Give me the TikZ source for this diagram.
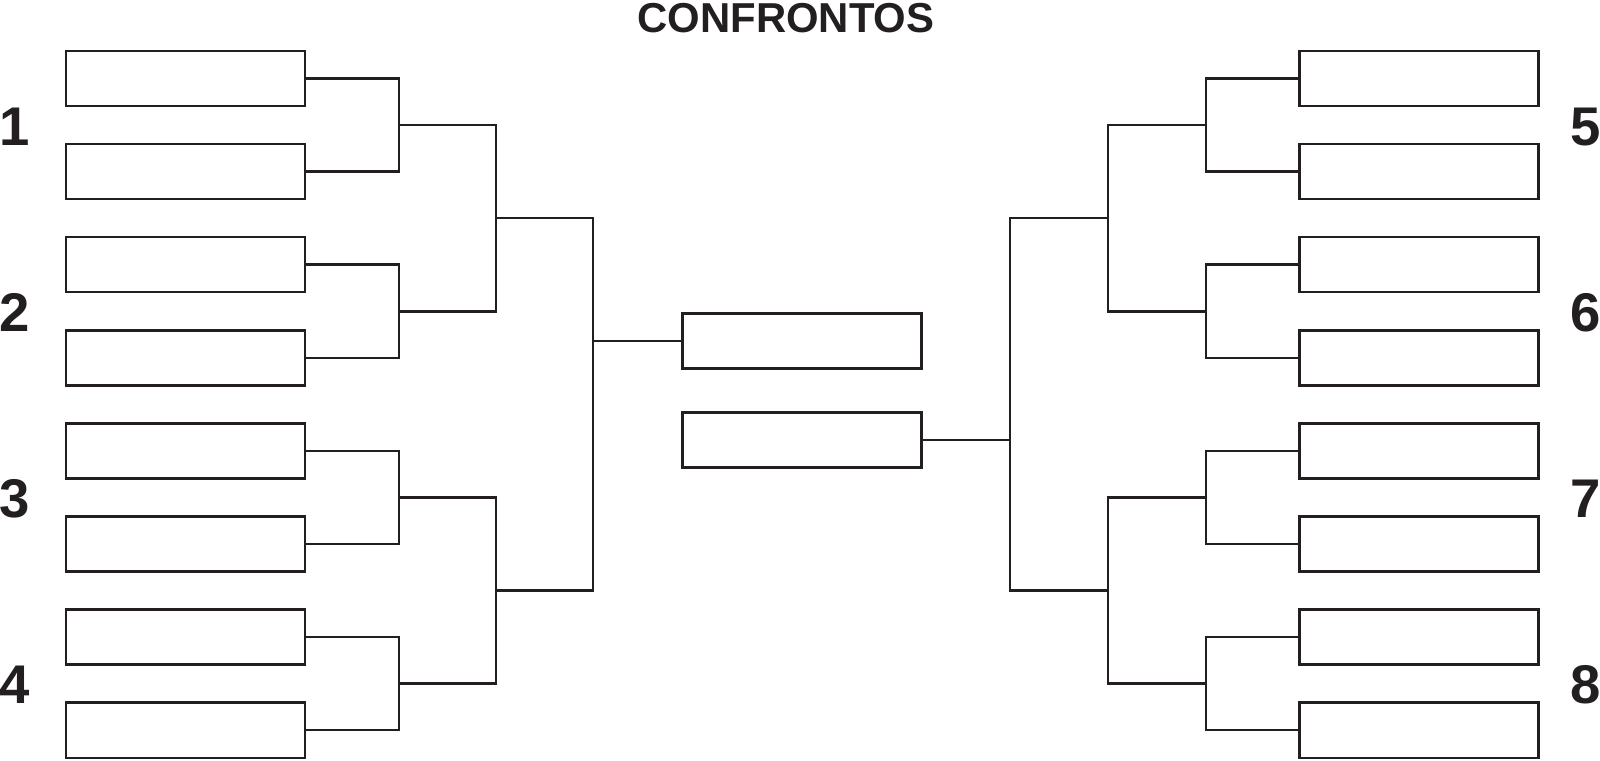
\documentclass[tikz,border=0pt]{standalone}
\usepackage{fontspec}
\setmainfont{Liberation Sans}
\usetikzlibrary{positioning}
\definecolor{cink}{HTML}{231F20}
\tikzset{
  every picture/.style={line width=0.7pt},
  slot/.style={draw=cink, fill=white, minimum width=2.39cm, minimum height=0.55cm, inner sep=0pt, outer sep=0pt},
  wire/.style={draw=cink, line width=0.7pt},
  seed/.style={font=\fontsize{15.5}{16}\selectfont\bfseries, text=cink, anchor=base, inner sep=0pt},
  title/.style={font=\fontsize{11.9}{12}\selectfont\bfseries, text=cink, anchor=base, inner sep=0pt},
}

\begin{document}
\begin{tikzpicture}[x=0.01cm, y=-0.01cm]
  \useasboundingbox (0,0) rectangle (1600,760);
  \node[title] (head) at (786,32) {CONFRONTOS};
  % left half
  \node[slot] (L1) at (185.5,78.5) {};
  \node[slot] (L2) at (185.5,171.6) {};
  \node[slot] (L3) at (185.5,264.7) {};
  \node[slot] (L4) at (185.5,357.8) {};
  \node[slot] (L5) at (185.5,450.9) {};
  \node[slot] (L6) at (185.5,544.0) {};
  \node[slot] (L7) at (185.5,637.1) {};
  \node[slot] (L8) at (185.5,730.2) {};
  % right half
  \node[slot] (R1) at (1419,78.5) {};
  \node[slot] (R2) at (1419,171.6) {};
  \node[slot] (R3) at (1419,264.7) {};
  \node[slot] (R4) at (1419,357.8) {};
  \node[slot] (R5) at (1419,450.9) {};
  \node[slot] (R6) at (1419,544.0) {};
  \node[slot] (R7) at (1419,637.1) {};
  \node[slot] (R8) at (1419,730.2) {};
  % final
  \node[slot] (M1) at (802,341) {};
  \node[slot] (M2) at (802,440) {};
  % joins
  \coordinate (ja) at (399,125);   \coordinate (jb) at (399,311.3);
  \coordinate (jc) at (399,497.5); \coordinate (jd) at (399,683.6);
  \coordinate (ka) at (496,218.2); \coordinate (kb) at (496,590.5);
  \coordinate (lm) at (593,341);
  \coordinate (je) at (1206,125);   \coordinate (jf) at (1206,311.3);
  \coordinate (jg) at (1206,497.5); \coordinate (jh) at (1206,683.6);
  \coordinate (kc) at (1108,218.2); \coordinate (kd) at (1108,590.5);
  \coordinate (rm) at (1010,440);
  \draw[wire] (L1.east) -| (ja) |- (L2.east);
  \draw[wire] (L3.east) -| (jb) |- (L4.east);
  \draw[wire] (L5.east) -| (jc) |- (L6.east);
  \draw[wire] (L7.east) -| (jd) |- (L8.east);
  \draw[wire] (ja) -| (ka) |- (jb);
  \draw[wire] (jc) -| (kb) |- (jd);
  \draw[wire] (ka) -| (lm) |- (kb);
  \draw[wire] (lm) -- (M1.west);
  \draw[wire] (R1.west) -| (je) |- (R2.west);
  \draw[wire] (R3.west) -| (jf) |- (R4.west);
  \draw[wire] (R5.west) -| (jg) |- (R6.west);
  \draw[wire] (R7.west) -| (jh) |- (R8.west);
  \draw[wire] (je) -| (kc) |- (jf);
  \draw[wire] (jg) -| (kd) |- (jh);
  \draw[wire] (kc) -| (rm) |- (kd);
  \draw[wire] (M2.east) -- (rm);
  % group numbers
  \node[seed] (n1) at (15,145) {1};
  \node[seed] (n2) at (15,331.3) {2};
  \node[seed] (n3) at (15,517.5) {3};
  \node[seed] (n4) at (15,703.6) {4};
  \node[seed] (n5) at (1586,145) {5};
  \node[seed] (n6) at (1586,331.3) {6};
  \node[seed] (n7) at (1586,517.5) {7};
  \node[seed] (n8) at (1586,703.6) {8};
\end{tikzpicture}
\end{document}
